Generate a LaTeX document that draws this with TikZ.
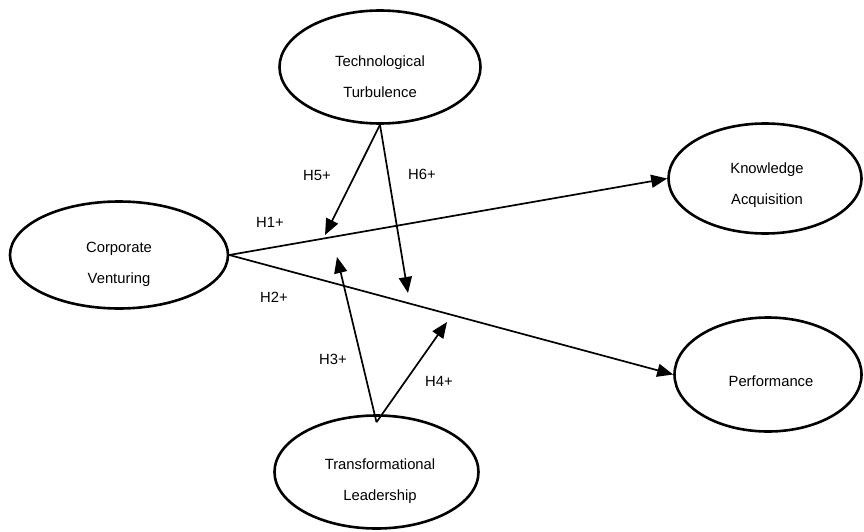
\documentclass[tikz,border=0pt]{standalone}
\usepackage{fontspec}
\setmainfont{Liberation Sans}
\usetikzlibrary{arrows.meta,shapes.geometric}

\begin{document}
\begin{tikzpicture}[x=1pt,y=-1pt,font=\fontsize{14.8}{31}\selectfont,>={Triangle[length=16pt,width=13pt]},
  construct/.style={ellipse,draw=black,line width=2.6pt,inner sep=0pt},
  caption/.style={align=center,inner sep=0pt},
  hyp/.style={inner sep=1pt},
  link/.style={->,draw=black,line width=1.7pt}]
\useasboundingbox (0,0) rectangle (864,532);
% constructs
\node[construct,minimum width=218pt,minimum height=107pt] (cv) at (119,255) {};
\node[construct,minimum width=201pt,minimum height=113pt] (tt) at (380,67) {};
\node[construct,minimum width=193pt,minimum height=110pt] (ka) at (765,178.5) {};
\node[construct,minimum width=187pt,minimum height=114pt] (perf) at (768,374.5) {};
\node[construct,minimum width=204pt,minimum height=113pt] (tl) at (376.5,472) {};
\node[caption] (cvtext) at (119,264) {Corporate\\Venturing};
\node[caption] (tttext) at (380,77) {Technological\\Turbulence};
\node[caption] (katext) at (767,185) {Knowledge\\Acquisition};
\node[caption] (perftext) at (771,381) {Performance};
\node[caption] (tltext) at (380,481) {Transformational\\Leadership};
% moderation points
\coordinate (tlin) at ([yshift=-8pt]tl.north);
\coordinate (h5end) at (325,235);
\coordinate (h6end) at (408,293);
\coordinate (h3end) at (337,257);
\coordinate (h4end) at (447,322);
% paths
\draw[link] (cv.east) -- (ka.west);
\draw[link] (cv.east) -- (perf.west);
\draw[link] (tt.south) -- (h5end);
\draw[link] (tt.south) -- (h6end);
\draw[link] (tlin) -- (h3end);
\draw[link] (tlin) -- (h4end);
% hypotheses
\node[hyp] (h1) at (270,222) {H1+};
\node[hyp] (h2) at (274,297) {H2+};
\node[hyp] (h3) at (333,359) {H3+};
\node[hyp] (h4) at (439,381) {H4+};
\node[hyp] (h5) at (317,175) {H5+};
\node[hyp] (h6) at (422,174) {H6+};
\end{tikzpicture}
\end{document}
